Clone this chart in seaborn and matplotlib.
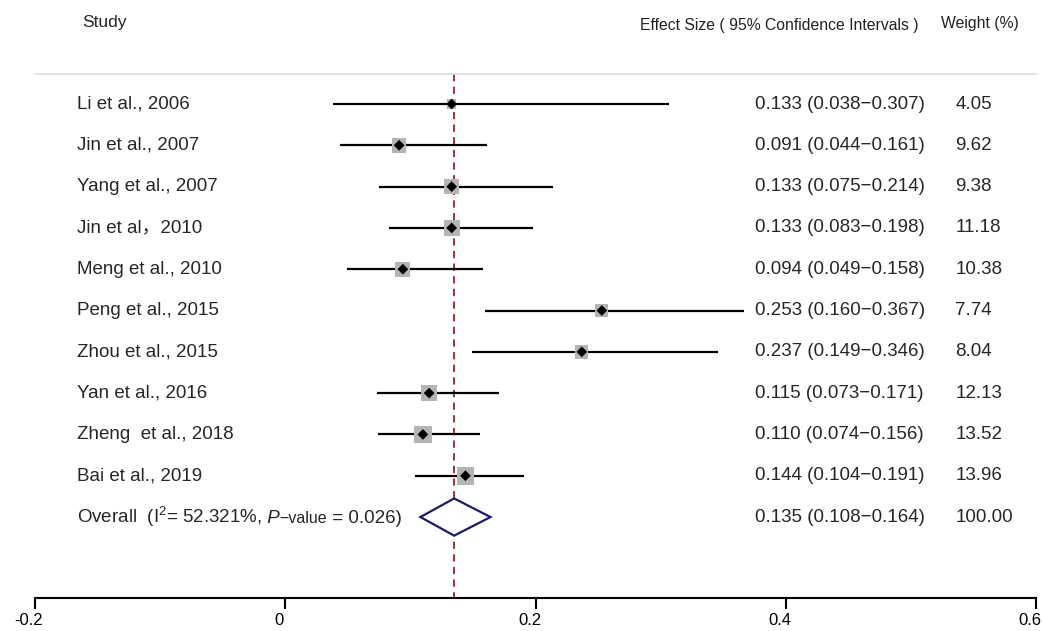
import numpy as np
import pandas as pd
import matplotlib
matplotlib.use("Agg")
import matplotlib.pyplot as plt
import matplotlib.transforms as mtransforms
import seaborn as sns
from matplotlib.patches import Polygon
from matplotlib.offsetbox import TextArea, HPacker, AnnotationBbox

# ---- data ----
studies = ["Li et al., 2006", "Jin et al., 2007", "Yang et al., 2007", "Jin et al\uff0c2010",
           "Meng et al., 2010", "Peng et al., 2015", "Zhou et al., 2015", "Yan et al., 2016",
           "Zheng  et al., 2018", "Bai et al., 2019"]
effect = [0.133, 0.091, 0.133, 0.133, 0.094, 0.253, 0.237, 0.115, 0.110, 0.144]
lower = [0.038, 0.044, 0.075, 0.083, 0.049, 0.160, 0.149, 0.073, 0.074, 0.104]
upper = [0.307, 0.161, 0.214, 0.198, 0.158, 0.367, 0.346, 0.171, 0.156, 0.191]
weight = [4.05, 9.62, 9.38, 11.18, 10.38, 7.74, 8.04, 12.13, 13.52, 13.96]
overall_effect = 0.135
overall_lower = 0.108
overall_upper = 0.164
overall_weight = 100.00
x_ticks = [-0.2, 0, 0.2, 0.4, 0.6]
x_tick_labels = ["-0.2", "0", "0.2", "0.4", "0.6"]

sns.set_style("white")
plt.rcParams['font.family'] = ['Liberation Sans', 'Noto Sans CJK SC', 'DejaVu Sans']
plt.rcParams['mathtext.fontset'] = 'custom'
plt.rcParams['mathtext.rm'] = 'Liberation Sans'
plt.rcParams['mathtext.it'] = 'Liberation Sans:italic'

df = pd.DataFrame({"study": studies, "effect": effect, "lower": lower,
                   "upper": upper, "weight": weight})
df["row"] = np.arange(len(df))

fig = plt.figure(figsize=(10.43, 6.31), dpi=100)
ax = fig.add_axes([35 / 1043, 33 / 631, 1001 / 1043, 598 / 631])
ax.set_xlim(-0.2, 0.6)
ax.set_ylim(11.96, -2.518)

# header separator
ax.plot([-0.2, 0.6], [-0.726, -0.726], color="#dcdcdc", lw=1.2, clip_on=False)
# reference dashed line
ax.plot([overall_effect, overall_effect], [-0.726, 11.96], color="#a01c28", lw=1.3,
        linestyle=(0, (4, 3)), zorder=1)

# CIs
ax.hlines(df["row"], df["lower"], df["upper"], color="black", lw=1.6, zorder=2)
# weight squares
sns.scatterplot(data=df, x="effect", y="row", size="weight",
                sizes=(11.5 * min(weight), 11.5 * max(weight)),
                size_norm=(min(weight), max(weight)), marker="s", color="#b4b4b4",
                edgecolor="none", legend=False, ax=ax, zorder=3)
# point estimates
sns.scatterplot(data=df, x="effect", y="row", marker="D", color="black", s=30,
                edgecolor="none", legend=False, ax=ax, zorder=4)

# overall diamond
orow = len(df)
diamond = Polygon([[overall_lower, orow], [overall_effect, orow - 0.45],
                   [overall_upper, orow], [overall_effect, orow + 0.45]],
                  closed=True, facecolor="white", edgecolor="#1a1a6e", lw=1.6, zorder=3)
ax.add_patch(diamond)

# text columns
x_name = -0.1664
x_eff = 0.3755
x_w = 0.5354
for i, r in df.iterrows():
    ax.text(x_name, r["row"], r["study"], fontsize=13.5, va="center", ha="left")
    ax.text(x_eff, r["row"], f"{r['effect']:.3f} ({r['lower']:.3f}\u2212{r['upper']:.3f})",
            fontsize=13.5, va="center", ha="left")
    ax.text(x_w, r["row"], f"{r['weight']:.2f}", fontsize=13.5, va="center", ha="left")

# overall label in pieces (italic P, smaller "-value")
p1 = TextArea(r"Overall  (I$^{2}$= 52.321%,", textprops=dict(fontsize=13.5))
p1b = TextArea(" P", textprops=dict(fontsize=13.5, fontstyle="italic"))
p2 = TextArea("\u2212value", textprops=dict(fontsize=11.5))
p3 = TextArea(" = 0.026)", textprops=dict(fontsize=13.5))
pack = HPacker(children=[p1, p1b, p2, p3], align="baseline", pad=0, sep=0)
ab = AnnotationBbox(pack, (x_name, orow), xycoords="data", box_alignment=(0, 0.5),
                    frameon=False, pad=0, annotation_clip=False)
ax.add_artist(ab)

ax.text(x_eff, orow, f"{overall_effect:.3f} ({overall_lower:.3f}\u2212{overall_upper:.3f})",
        fontsize=13.5, va="center", ha="left")
ax.text(x_w, orow, f"{overall_weight:.2f}", fontsize=13.5, va="center", ha="left")

# headers
ax.text(-0.1624, -1.985, "Study", fontsize=12.5, va="center", ha="left")
ax.text(0.2836, -1.9, "Effect Size ( 95% Confidence Intervals )", fontsize=11.3,
        va="center", ha="left", color="#222222")
ax.text(0.5242, -1.95, "Weight (%)", fontsize=11.3, va="center", ha="left", color="#222222")

# axes styling
for s in ["left", "top", "right"]:
    ax.spines[s].set_visible(False)
ax.spines["bottom"].set_linewidth(1.5)
ax.spines["bottom"].set_color("black")
ax.set_yticks([])
ax.set_xticks(x_ticks)
ax.set_xticklabels(x_tick_labels)
ax.tick_params(axis="x", direction="out", length=8, width=1.5, labelsize=12, pad=3,
               bottom=True, colors="black")
offset = mtransforms.ScaledTranslation(-6 / 100, 0, fig.dpi_scale_trans)
for lab in ax.get_xticklabels():
    lab.set_transform(lab.get_transform() + offset)
ax.set_xlabel("")
ax.set_ylabel("")

fig.savefig("out.png", dpi=100)
